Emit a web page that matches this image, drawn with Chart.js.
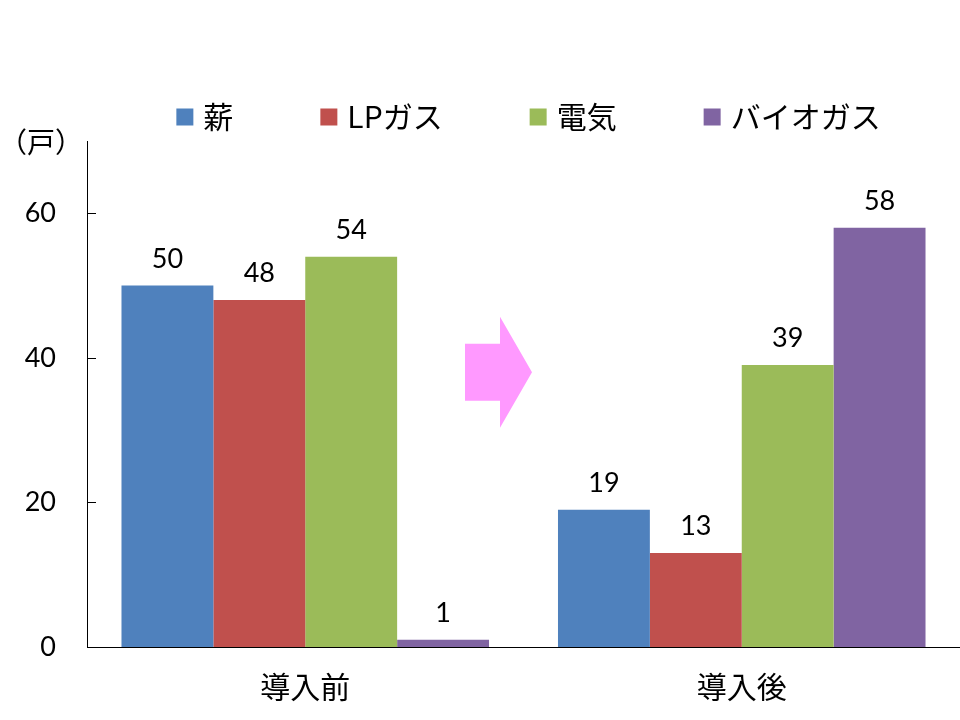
<!DOCTYPE html>
<html>
<head>
<meta charset="utf-8">
<script src="https://cdn.jsdelivr.net/npm/chart.js@4"></script>
<style>
html,body{margin:0;padding:0;background:#fff;}
#wrap{width:960px;height:720px;}
</style>
</head>
<body>
<div id="wrap"><canvas id="c" width="960" height="720"></canvas></div>
<script>
const categories = ['導入前', '導入後'];
const seriesNames = ['薪', 'LPガス', '電気', 'バイオガス'];
const firewood = [50, 19];
const lpGas = [48, 13];
const electricity = [54, 39];
const biogas = [1, 58];
const yTicks = [0, 20, 40, 60];
const unitLabel = '（戸）';
const colors = ['#4F81BD', '#C0504D', '#9BBB59', '#8064A2'];

const JP = '"Noto Sans CJK JP", "Noto Sans", sans-serif';
const NUM = 'Lato, "Liberation Sans", sans-serif';

const seriesValues = [firewood, lpGas, electricity, biogas];

const customLegend = {
  id: 'customLegend',
  afterDraw(chart) {
    const ctx = chart.ctx;
    const area = chart.chartArea;
    ctx.save();
    ctx.font = '30px ' + JP;
    ctx.textBaseline = 'middle';
    ctx.textAlign = 'left';
    const box = 17, gapBT = 10, gapItem = 87;
    const items = chart.data.datasets.map(ds => ({
      label: ds.label, color: ds.backgroundColor, w: ctx.measureText(ds.label).width
    }));
    let total = 0;
    items.forEach((it, i) => { total += box + gapBT + it.w + (i ? gapItem : 0); });
    const cx = (area.left + area.right) / 2 + 5;
    let x = cx - total / 2;
    const cy = area.top - 24;
    items.forEach(it => {
      ctx.fillStyle = it.color;
      ctx.fillRect(x, cy - box / 2, box, box);
      ctx.fillStyle = '#000';
      ctx.fillText(it.label, x + box + gapBT, cy);
      x += box + gapBT + it.w + gapItem;
    });
    ctx.restore();
  }
};

const extras = {
  id: 'extras',
  afterDraw(chart) {
    const ctx = chart.ctx;
    const area = chart.chartArea;
    const ys = chart.scales.y, xs = chart.scales.x;
    ctx.save();
    // inside tick marks
    ctx.strokeStyle = '#000';
    ctx.lineWidth = 1;
    ys.ticks.forEach(t => {
      const py = Math.round(ys.getPixelForValue(t.value)) + 0.5;
      ctx.beginPath();
      ctx.moveTo(area.left, py);
      ctx.lineTo(area.left + 9, py);
      ctx.stroke();
    });
    // unit label
    ctx.fillStyle = '#000';
    ctx.font = '28px ' + JP;
    ctx.textAlign = 'center';
    ctx.textBaseline = 'middle';
    ctx.fillText(unitLabel, 41, area.top + 1);
    // data labels
    ctx.font = '27px ' + NUM;
    ctx.textBaseline = 'alphabetic';
    chart.data.datasets.forEach((ds, di) => {
      const meta = chart.getDatasetMeta(di);
      meta.data.forEach((el, i) => {
        ctx.fillText(String(ds.data[i]), el.x, el.y - 18);
      });
    });
    // arrow between categories
    const mid = (xs.getPixelForValue(0) + xs.getPixelForValue(1)) / 2;
    const cy = ys.getPixelForValue(38);
    ctx.fillStyle = '#FF99FF';
    ctx.beginPath();
    ctx.moveTo(mid - 58.5, cy - 28.5);
    ctx.lineTo(mid - 23.5, cy - 28.5);
    ctx.lineTo(mid - 23.5, cy - 55.5);
    ctx.lineTo(mid + 8.5, cy);
    ctx.lineTo(mid - 23.5, cy + 55.5);
    ctx.lineTo(mid - 23.5, cy + 28.5);
    ctx.lineTo(mid - 58.5, cy + 28.5);
    ctx.closePath();
    ctx.fill();
    ctx.restore();
  }
};

new Chart(document.getElementById('c'), {
  type: 'bar',
  data: {
    labels: categories,
    datasets: seriesNames.map((name, i) => ({
      label: name,
      data: seriesValues[i],
      backgroundColor: colors[i],
      borderWidth: 0,
      categoryPercentage: 0.842,
      barPercentage: 1.0
    }))
  },
  options: {
    responsive: false,
    animation: false,
    devicePixelRatio: 1,
    layout: { padding: { top: 141, left: 0, right: 0, bottom: 0 } },
    plugins: { legend: { display: false }, tooltip: { enabled: false } },
    scales: {
      x: {
        grid: { display: false, drawTicks: false },
        border: { display: true, color: '#000', width: 1 },
        ticks: { color: '#000', font: { family: JP, size: 30 }, padding: 22 },
        afterFit(s) { s.height = 73; }
      },
      y: {
        min: 0, max: 70,
        grid: { display: false, drawTicks: false },
        border: { display: true, color: '#000', width: 1 },
        ticks: { stepSize: 20, color: '#000', font: { family: NUM, size: 27 }, padding: 31 },
        afterBuildTicks(s) { s.ticks = yTicks.map(v => ({ value: v })); },
        afterFit(s) { s.width = 87; }
      }
    }
  },
  plugins: [customLegend, extras]
});
</script>
</body>
</html>
